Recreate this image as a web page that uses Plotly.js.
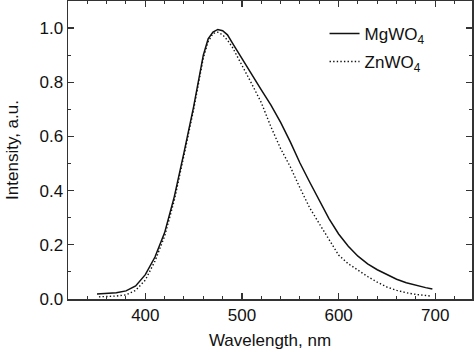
<!DOCTYPE html>
<html>
<head>
<meta charset="utf-8">
<script src="https://cdn.plot.ly/plotly-3.0.1.min.js"></script>
<style>html,body{margin:0;padding:0;background:#fff;}#chart{width:474px;height:353px;}</style>
</head>
<body>
<div id="chart"></div>
<script>
var mgWavelength = [350, 360, 370, 380, 390, 400, 410, 420, 430, 440, 450, 460, 465, 470, 475, 480, 485, 490, 500, 510, 520, 530, 540, 550, 560, 570, 580, 590, 600, 610, 620, 630, 640, 650, 660, 670, 680, 690, 697];
var mgIntensity = [0.018, 0.020, 0.023, 0.030, 0.048, 0.090, 0.155, 0.245, 0.378, 0.540, 0.710, 0.900, 0.960, 0.985, 0.995, 0.990, 0.975, 0.945, 0.886, 0.828, 0.772, 0.716, 0.652, 0.580, 0.502, 0.432, 0.362, 0.297, 0.240, 0.195, 0.158, 0.130, 0.108, 0.089, 0.073, 0.060, 0.050, 0.042, 0.037];

var znWavelength = [352, 360, 370, 380, 390, 400, 410, 420, 430, 440, 450, 460, 465, 470, 475, 480, 485, 490, 500, 510, 520, 530, 540, 550, 560, 570, 580, 590, 600, 610, 620, 630, 640, 650, 660, 670, 680, 690, 695];
var znIntensity = [0.008, 0.009, 0.011, 0.015, 0.032, 0.070, 0.140, 0.232, 0.365, 0.530, 0.700, 0.890, 0.950, 0.980, 0.985, 0.975, 0.955, 0.930, 0.865, 0.795, 0.725, 0.635, 0.555, 0.488, 0.410, 0.337, 0.278, 0.220, 0.162, 0.130, 0.105, 0.083, 0.062, 0.044, 0.032, 0.023, 0.017, 0.012, 0.011];

var seriesNames = ['MgWO<sub>4</sub>', 'ZnWO<sub>4</sub>'];
var xTitle = 'Wavelength, nm';
var yTitle = 'Intensity, a.u.';

var FONT = 'Liberation Sans, Arial, sans-serif';

var traces = [
  {x: mgWavelength, y: mgIntensity, name: seriesNames[0], type: 'scatter', mode: 'lines',
   line: {color: '#111', width: 1.5, dash: 'solid'}, legendgroup: 'a'},
  {x: znWavelength, y: znIntensity, name: seriesNames[1], type: 'scatter', mode: 'lines',
   line: {color: '#111', width: 1.4, dash: '1.4px,2.2px'}, legendgroup: 'b'}
];

var axisCommon = {
  showline: true, linecolor: '#333', linewidth: 1.5, mirror: 'ticks',
  ticks: 'inside', ticklen: 6, tickwidth: 1.2, tickcolor: '#333',
  showgrid: false, zeroline: false,
  tickfont: {family: FONT, size: 17, color: '#111'}
};

var layout = {
  width: 474, height: 353,
  margin: {l: 68, r: 2, t: 1, b: 54},
  paper_bgcolor: '#fff', plot_bgcolor: '#fff',
  showlegend: true,
  legend: {x: 0.635, y: 0.95, xanchor: 'left', yanchor: 'top', bgcolor: 'rgba(0,0,0,0)',
    traceorder: 'grouped', tracegroupgap: 3,
    font: {family: FONT, size: 17, color: '#111'}},
  xaxis: Object.assign({}, axisCommon, {
    range: [320, 738], dtick: 100, tick0: 0,
    minor: {dtick: 20, ticks: 'inside', ticklen: 3, tickwidth: 1, tickcolor: '#333'},
    title: {text: xTitle, standoff: 10, font: {family: FONT, size: 17, color: '#111'}}
  }),
  yaxis: Object.assign({}, axisCommon, {
    range: [0, 1.1], dtick: 0.2, tick0: 0, tickformat: '.1f',
    minor: {dtick: 0.1, ticks: 'inside', ticklen: 3, tickwidth: 1, tickcolor: '#333'},
    title: {text: yTitle, standoff: 16, font: {family: FONT, size: 17, color: '#111'}}
  })
};

Plotly.newPlot('chart', traces, layout, {displayModeBar: false, staticPlot: true});
</script>
</body>
</html>
